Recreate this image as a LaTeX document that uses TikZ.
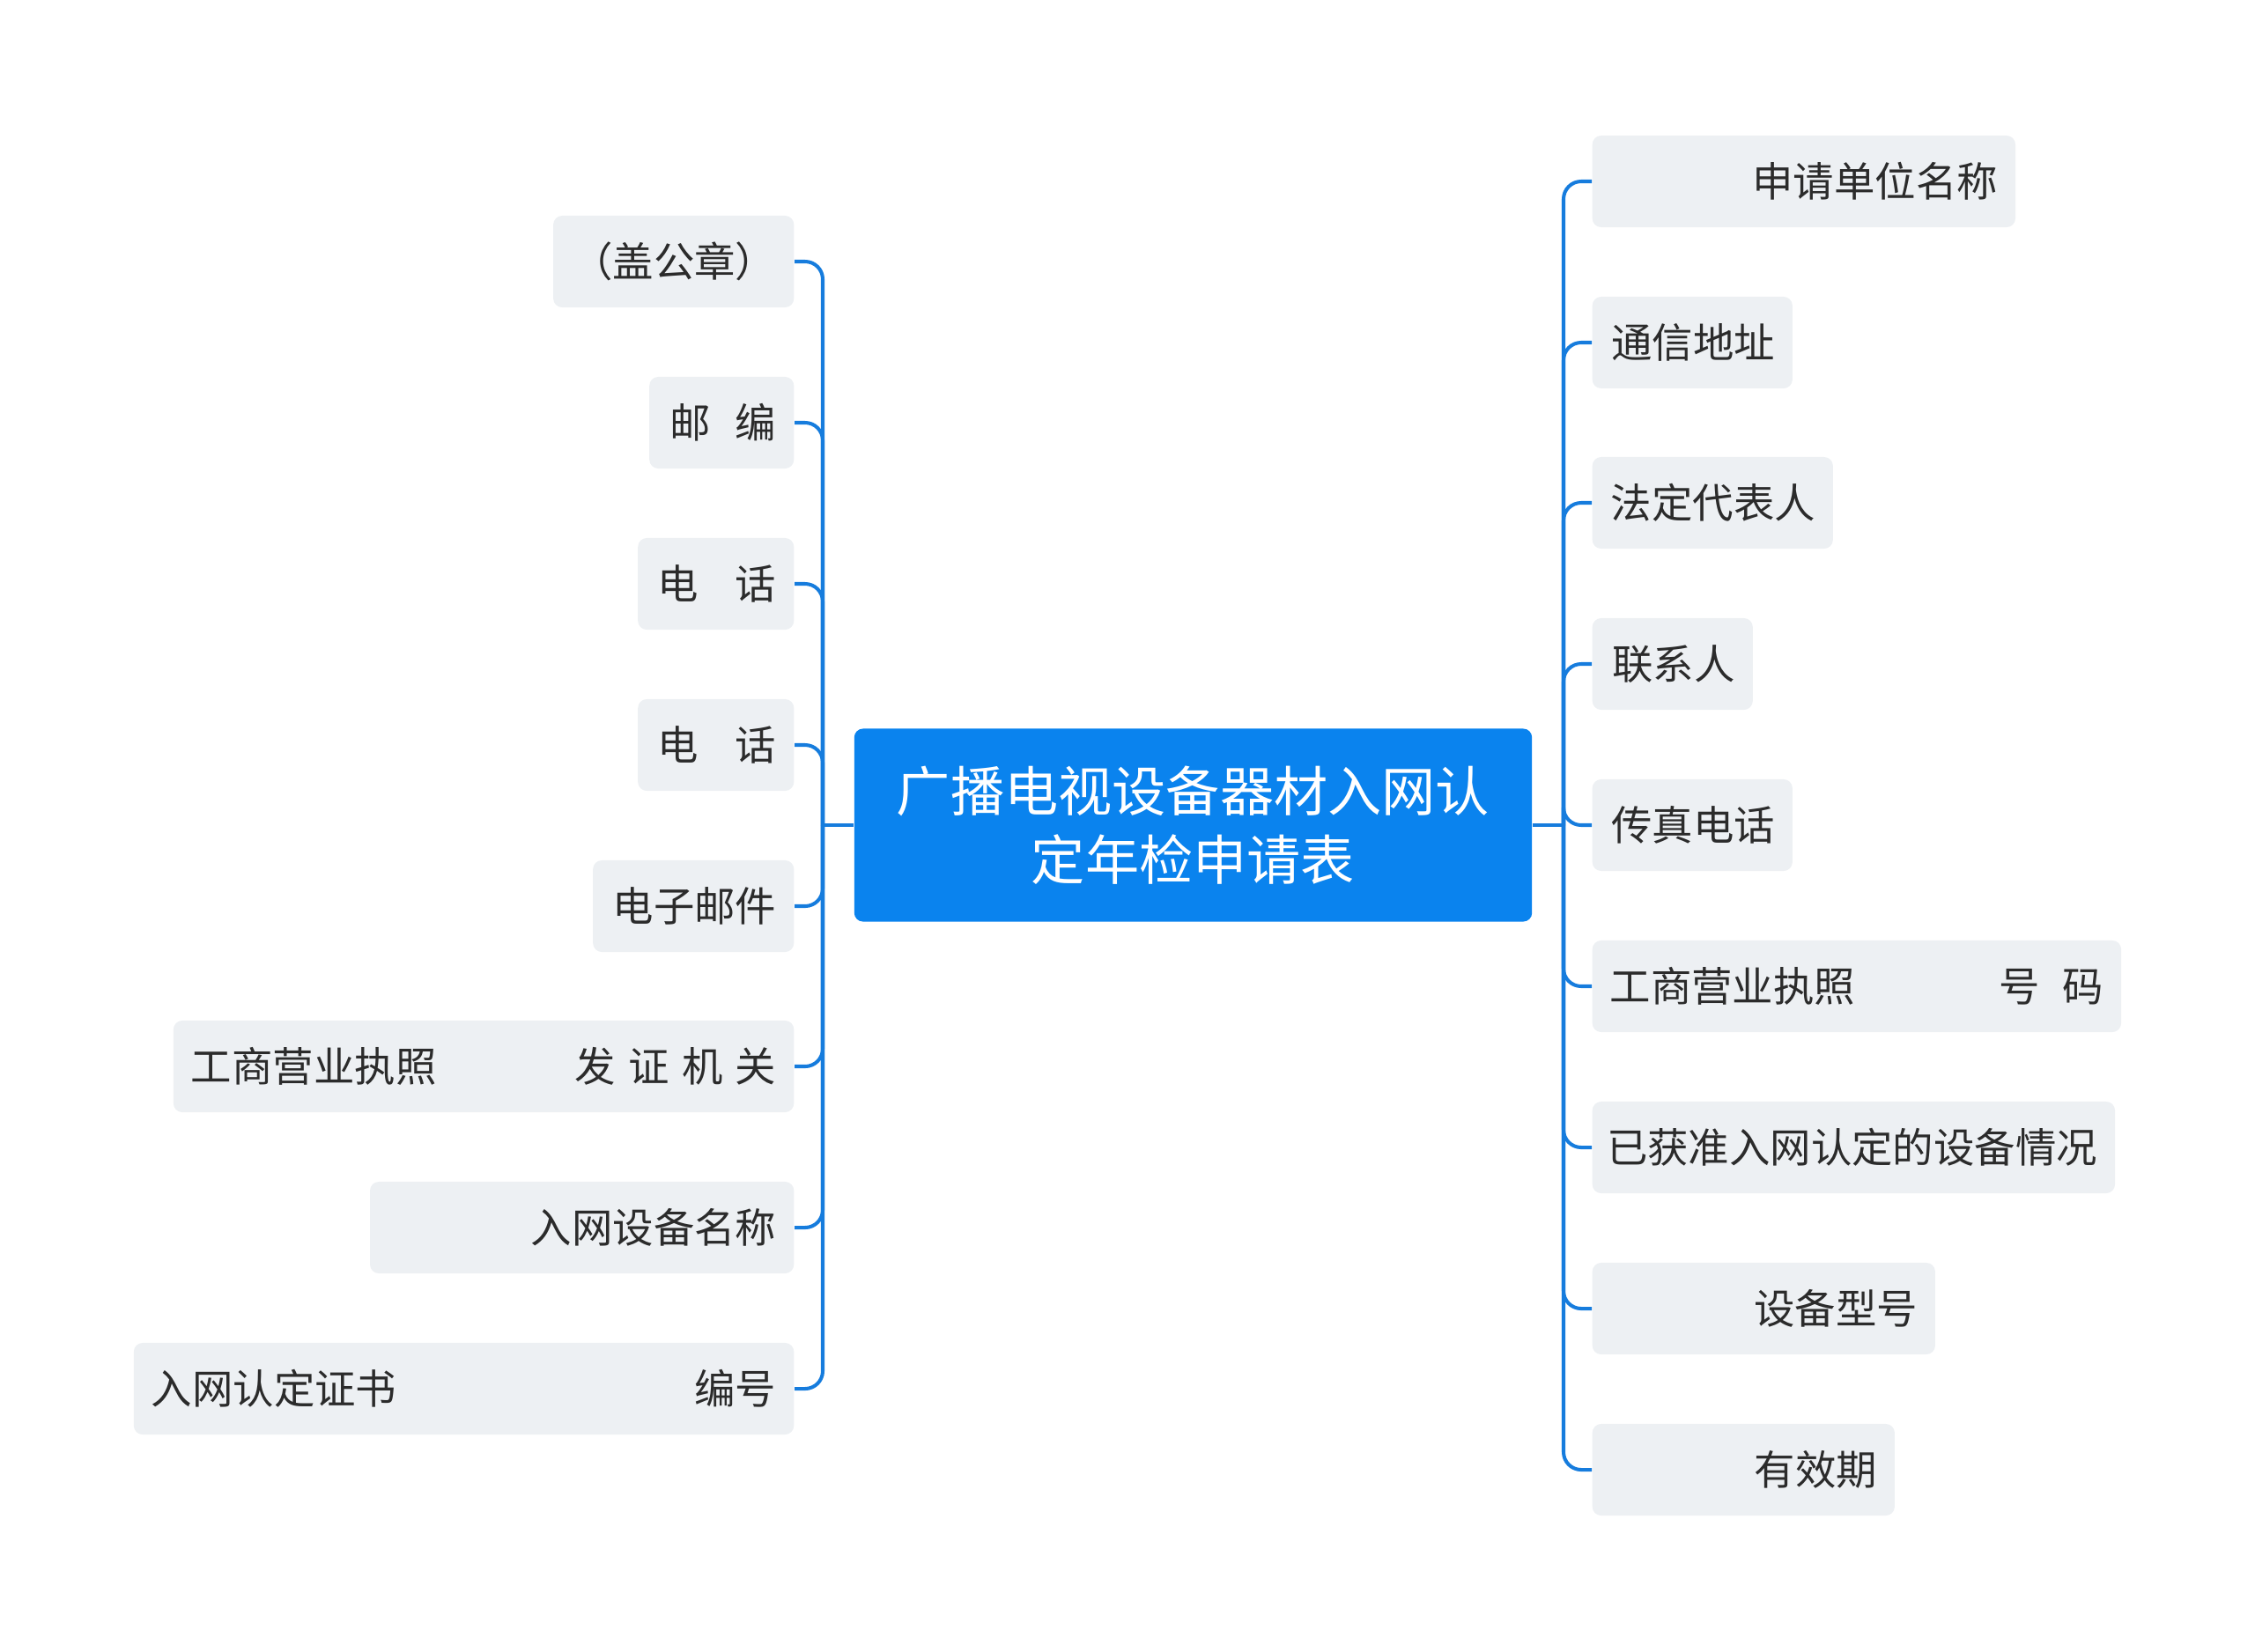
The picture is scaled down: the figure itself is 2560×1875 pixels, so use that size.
\documentclass[tikz,border=0pt]{standalone}
\usepackage{fontspec}
\setmainfont{Noto Sans CJK SC}
\usetikzlibrary{positioning}
\definecolor{ink}{HTML}{2B2B2B}
\definecolor{topic}{HTML}{0A83EE}
\definecolor{branch}{HTML}{167CDD}
\definecolor{leaf}{HTML}{EDF0F3}

\begin{document}
\begin{tikzpicture}[x=0.01cm, y=-0.01cm,
    leafbox/.style={rectangle, fill=leaf, rounded corners=0.1cm, minimum height=1.04cm,
                    inner xsep=0.2cm, inner ysep=0pt, text=ink,
                    font=\fontsize{13.2pt}{15.5pt}\selectfont},
    link/.style={branch, line width=1.15pt, rounded corners=0.2cm}]
  \useasboundingbox (0,0) rectangle (2560,1875);

  % Central topic
  \node[rectangle, fill=topic, rounded corners=0.1cm, minimum width=7.69cm, minimum height=2.19cm,
        text width=7.2cm, align=center, text=white, font=\fontsize{17.4pt}{22.2pt}\selectfont]
        (root) at (1354.5,937) {广播电视设备器材入网认\\定年检申请表};

  \coordinate (ltrunk) at (934,937);
  \coordinate (rtrunk) at (1775,937);
  \draw[link] (root.west) -- (ltrunk);
  \draw[link] (root.east) -- (rtrunk);

  % Left branches
  \foreach \n/\y/\w/\t in {l1/297/2.73/{（盖公章）},
                           l2/480/1.64/{邮\hspace{0.6em}编},
                           l3/663/1.77/{电\hspace{0.9em}话},
                           l4/846/1.77/{电\hspace{0.9em}话},
                           l5/1029/2.28/{电子邮件},
                           l6/1211/7.04/{工商营业执照\hfill 发\hspace{0.31em}证\hspace{0.31em}机\hspace{0.31em}关},
                           l7/1394/4.81/{入网设备名称},
                           l8/1577/7.49/{入网认定证书\hfill 编号}} {
    \pgfmathsetmacro\tw{\w-0.4}
    \node[leafbox, anchor=east, text width=\tw cm] (\n) at (902,\y) {\hbox to\hsize{\hss\t}};
    \draw[link] (ltrunk) |- (\n.east);
  }

  % Right branches
  \foreach \n/\y/\w/\t in {r1/206/4.80/{申请单位名称},
                           r2/389/2.27/{通信地址},
                           r3/571/2.73/{法定代表人},
                           r4/754/1.82/{联系人},
                           r5/937/2.27/{传真电话},
                           r6/1120/6.00/{工商营业执照\hfill 号\hspace{0.56em}码},
                           r7/1303/5.93/{已获准入网认定的设备情况},
                           r8/1486/3.89/{设备型号},
                           r9/1669/3.43/{有效期}} {
    \pgfmathsetmacro\tw{\w-0.4}
    \node[leafbox, anchor=west, text width=\tw cm] (\n) at (1807,\y) {\hbox to\hsize{\hss\t}};
    \draw[link] (rtrunk) |- (\n.west);
  }
\end{tikzpicture}
\end{document}
